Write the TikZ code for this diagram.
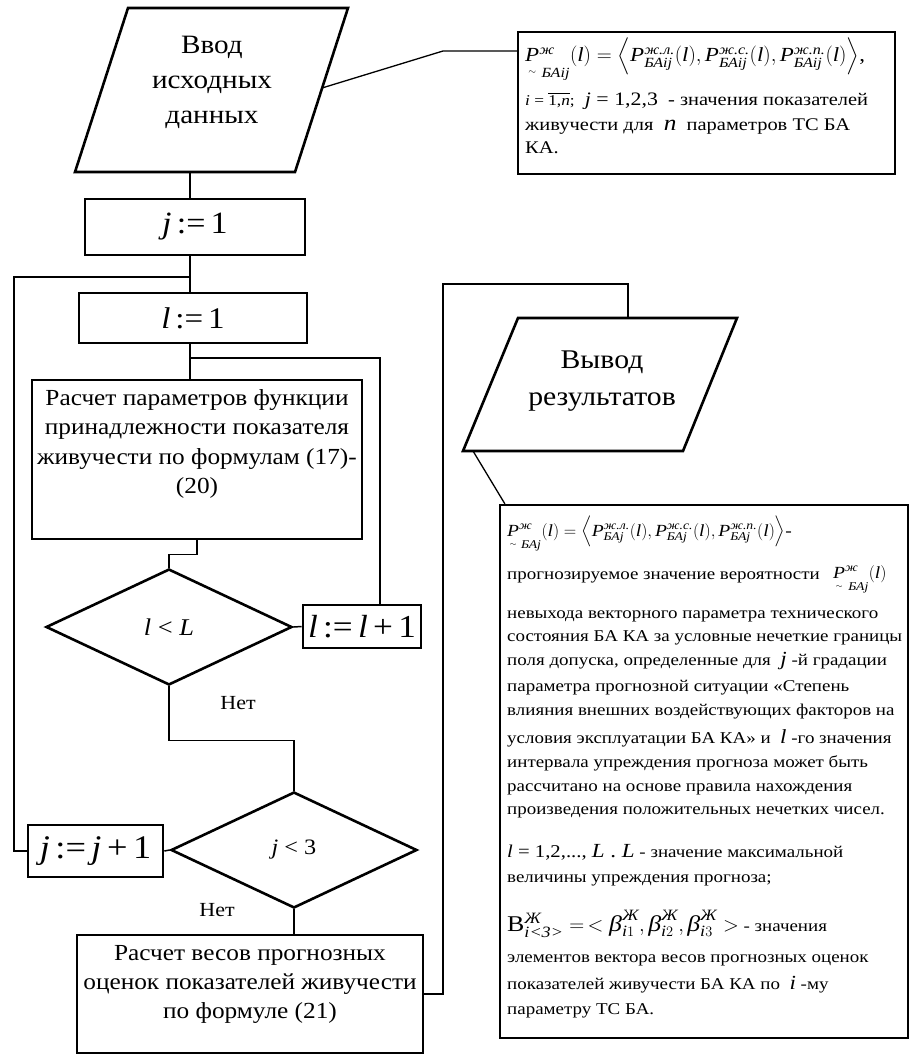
\documentclass[tikz,border=0pt]{standalone}
\usepackage{amsmath}
\usepackage{fontspec}
\setmainfont{Liberation Serif}[FakeStretch=1.1]
\newfontfamily\notefont{Liberation Serif}[FakeStretch=1.15]
\usetikzlibrary{shapes.geometric}

\newcommand\fs[2]{\fontsize{#1}{#2}\selectfont}
\newcommand\iv[1]{\textit{#1}}
\newcommand\tx[1]{\text{\itshape #1}}
\newcommand\fuzzyP{\underset{\scriptscriptstyle\sim}{\iv{P}}}

\begin{document}
\begin{tikzpicture}[x=1pt,y=-1pt,
  blk/.style={draw, line width=2.6pt, rectangle, inner sep=0pt},
  io/.style={draw, line width=2.6pt, line join=miter},
  conn/.style={line width=1.5pt},
  callout/.style={line width=1.3pt},
  notebox/.style={draw, line width=2.2pt, rectangle, inner sep=0pt},
  dia/.style={draw, diamond, line width=2.6pt, inner sep=0pt},
  lbl/.style={inner sep=0pt, align=center},
  nt/.style={inner sep=0pt, anchor=base west, font=\notefont\fs{16.5}{20}},
  nta/.style={inner sep=0pt, anchor=base west, font=\notefont\fs{17.8}{21}},
]
\useasboundingbox (0,0) rectangle (915,1057);
\fill[white] (0,0) rectangle (915,1057);

% ---------- input block ----------
\draw[io] (128,8) -- (348,8) -- (295,172) -- (75,172) -- cycle;
\coordinate (inB) at (190,172);
\coordinate (inR) at (322,88);
\node[lbl, font=\fs{26.5}{35}] (inText) at (212,82) {Ввод\\исходных\\данных};

% ---------- main column ----------
\node[blk, minimum width=220pt, minimum height=56pt] (j1) at (195,227) {\fs{31}{31}\iv{j}\,:=\,1};
\node[blk, minimum width=228pt, minimum height=50pt] (l1) at (193,318) {\fs{30}{30}\iv{l}\,:=\,1};
\node[blk, minimum width=330pt, minimum height=159pt] (calcA) at (197,459.5) {};
\node[lbl, font=\fs{23}{29.5}] (calcAtext) at (197,444) {Расчет параметров функции\\принадлежности показателя\\живучести по формулам (17)-\\(20)};
\node[dia, minimum width=246pt, minimum height=116pt] (d1) at (169,627) {\fs{24}{24}\iv{l} < \iv{L}};
\node[blk, minimum width=118pt, minimum height=43pt] (lInc) at (362,626.5) {\fs{32}{32}\iv{l}\,:=\,\iv{l}\,+\,1};
\node[dia, minimum width=246pt, minimum height=116pt] (d2) at (294,850) {\fs{22}{22}\iv{j} < 3};
\node[blk, minimum width=135pt, minimum height=52pt] (jInc) at (95.5,851) {\fs{33}{33}\iv{j}\,:=\,\iv{j}\,+\,1};
\node[blk, minimum width=346pt, minimum height=118pt] (calcB) at (250,994) {};
\node[lbl, font=\fs{23}{29}] (calcBtext) at (250,984) {Расчет весов прогнозных\\оценок показателей живучести\\по формуле (21)};

\node[lbl, font=\fs{20}{20}] (noA) at (238,703) {Нет};
\node[lbl, font=\fs{20}{20}] (noB) at (217,910) {Нет};

% ---------- output block ----------
\draw[io] (518,318) -- (737,318) -- (683,451) -- (463,451) -- cycle;
\coordinate (outT) at (628,318);
\coordinate (outBL) at (473,451);
\node[lbl, font=\fs{27}{37}] (outText) at (602,381) {Вывод\\результатов};

% ---------- connectors ----------
\draw[conn] (inB) -- (inB |- j1.north);
\draw[conn] (inB |- j1.south) -- (inB |- l1.north);
\coordinate (jLoop) at (190,277);
\draw[conn] (jInc.west) -- (14,851) -- (14,277) -- (jLoop);
\draw[conn] (inB |- l1.south) -- (inB |- calcA.north);
\coordinate (lLoop) at (190,358);
\draw[conn] (lLoop) -| ([xshift=18pt]lInc.north);
\draw[conn] (calcA.south) -- ++(0,14) -| (d1.north);
\draw[conn] (d1.east) -- (lInc.west);
\draw[conn] (d1.south) -- ++(0,54) -| (d2.north);
\draw[conn] (d2.west) -- (jInc.east);
\draw[conn] (d2.south) -- (d2.south |- calcB.north);
\draw[conn] (calcB.east) -| (443,284) -| (outT);

% ---------- notes ----------
\node[notebox, minimum width=377pt, minimum height=142pt] (note1) at (706.5,103) {};
\node[notebox, minimum width=408pt, minimum height=533pt] (note2) at (704,771.5) {};
\draw[callout] (inR) -- (443,51) -- (note1.west |- 0,51);
\draw[callout] (outBL) -- ([xshift=6pt]note2.north west);

% note 1 text
\node[nta, font=\notefont\fs{20}{22}] (n1a) at (525,62) {$\fuzzyP^{\tx{ж}}_{\,\tx{БАij}}(\iv{l})=\Big\langle \iv{P}^{\tx{ж.л.}}_{\tx{БАij}}(\iv{l}), \iv{P}^{\tx{ж.с.}}_{\tx{БАij}}(\iv{l}), \iv{P}^{\tx{ж.п.}}_{\tx{БАij}}(\iv{l})\Big\rangle$,};
\node[nta] (n1b) at (525,105) {{\fs{15}{15}\iv{i} = $\overline{\text{1,\iv{n}}}$;}\ \ {\fs{19}{19}\iv{j} = 1,2,3}\ \ - значения показателей};
\node[nta] (n1c) at (525,130) {живучести для \ {\fs{22}{22}\iv{n}} \ параметров ТС БА};
\node[nta] (n1d) at (525,153) {КА.};

% note 2 text
\node[nt, font=\notefont\fs{17}{20}] (n2a) at (507,536) {$\fuzzyP^{\tx{ж}}_{\,\tx{БАj}}(\iv{l})=\Big\langle \iv{P}^{\tx{ж.л.}}_{\tx{БАj}}(\iv{l}), \iv{P}^{\tx{ж.с.}}_{\tx{БАj}}(\iv{l}), \iv{P}^{\tx{ж.п.}}_{\tx{БАj}}(\iv{l})\Big\rangle$-};
\node[nt] (n2b) at (507,579) {прогнозируемое значение вероятности};
\node[nt, font=\notefont\fs{17}{18}] (n2bf) at (833,578) {$\fuzzyP^{\tx{ж}}_{\;\tx{БАj}}(\iv{l})$};
\node[nt] (n2c) at (507,618) {невыхода векторного параметра технического};
\node[nt] (n2d) at (507,641) {состояния БА КА за условные нечеткие границы};
\node[nt] (n2e) at (507,665) {поля допуска, определенные для \ {\fs{20}{20}\iv{j}} -й градации};
\node[nt] (n2f) at (507,691) {параметра прогнозной ситуации «Степень};
\node[nt] (n2g) at (507,715) {влияния внешних воздействующих факторов на};
\node[nt] (n2h) at (507,743) {условия эксплуатации БА КА» и \ {\fs{20}{20}\iv{l}} -го значения};
\node[nt] (n2i) at (507,767) {интервала упреждения прогноза может быть};
\node[nt] (n2j) at (507,791) {рассчитано на основе правила нахождения};
\node[nt] (n2k) at (507,814) {произведения положительных нечетких чисел.};
\node[nt] (n2l) at (507,857) {{\fs{18}{18}\iv{l} = 1,2,..., {\fs{20}{20}\iv{L} . \iv{L}}} - значение максимальной};
\node[nt] (n2m) at (507,882) {величины упреждения прогноза;};
\node[nt] (n2n) at (507,931) {{\fs{22.5}{24}В$^{\tx{Ж}}_{\tx{i<3>}}=\,<\iv{β}^{\tx{Ж}}_{\tx{i}1},\iv{β}^{\tx{Ж}}_{\tx{i}2},\iv{β}^{\tx{Ж}}_{\tx{i}3}>$} - значения};
\node[nt] (n2o) at (507,962) {элементов вектора весов прогнозных оценок};
\node[nt] (n2p) at (507,989) {показателей живучести БА КА по \ {\fs{20}{20}\iv{i}} -му};
\node[nt] (n2q) at (507,1014) {параметру ТС БА.};
\end{tikzpicture}
\end{document}
